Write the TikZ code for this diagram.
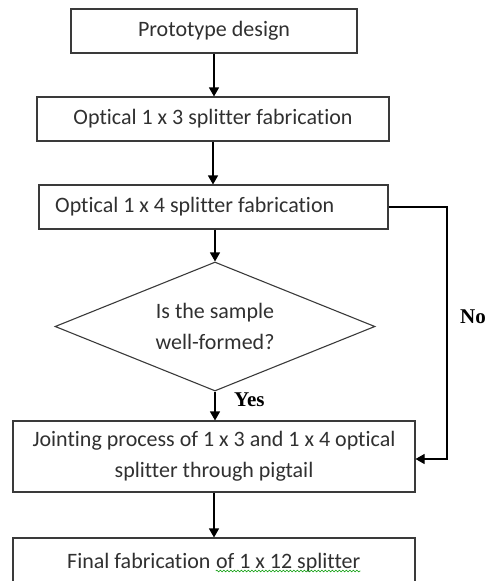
\documentclass[tikz,border=0pt]{standalone}
\usepackage{fontspec}
\setmainfont[Ligatures=NoCommon]{Carlito}
\newfontfamily\labelfont{Liberation Serif}
\usetikzlibrary{shapes.geometric,arrows.meta,decorations.pathmorphing}
\definecolor{edge}{HTML}{3A3A3A}
\definecolor{ink}{HTML}{303030}
\tikzset{
  boxfont/.style={font=\fontsize{22}{31}\selectfont, text=ink},
  box/.style={draw=edge, line width=1.1pt, rectangle, inner sep=0pt, boxfont, align=center},
  decision/.style={draw=edge, line width=1.1pt, diamond, aspect=2.5, inner sep=0pt, boxfont, align=center},
  flow/.style={draw=black, line width=1.1pt, -{Triangle[length=9pt,width=10pt]}},
  answer/.style={font=\labelfont\bfseries\fontsize{21}{24}\selectfont, text=black}
}
\begin{document}
\begin{tikzpicture}[x=1pt,y=-1pt]
\useasboundingbox (0,0) rectangle (485,581);
\begin{scope}
\clip (0,0) rectangle (485,581);
% process boxes
\node[box, minimum width=286pt, minimum height=44pt] (proto) at (214,31) {Prototype design};
\node[box, minimum width=352pt, minimum height=44pt] (s13) at (213,119) {Optical 1 x 3 splitter fabrication};
\node[box, minimum width=349pt, minimum height=44pt] (s14) at (213.5,207) {};
\node[boxfont, anchor=west, inner sep=0pt] (s14t) at (55,207) {Optical 1 x 4 splitter fabrication};
\node[decision, minimum width=320pt, minimum height=129pt] (check) at (215,326.5) {Is the sample\\well-formed?};
\node[box, minimum width=402pt, minimum height=71pt] (joint) at (214,456.5) {Jointing process of 1 x 3 and 1 x 4 optical\\splitter through pigtail};
\node[box, minimum width=402pt, minimum height=60pt] (final) at (214,568) {};
% last caption in two pieces so the squiggle sits under the second one
\node[boxfont, inner sep=0pt, anchor=base west] (finalA) at (67,568) {Final fabrication};
\node[boxfont, inner sep=0pt, anchor=base west] (finalB) at ([xshift=5pt]finalA.base east) {of 1 x 12 splitter};
\draw[green!60!black, line width=0.6pt, decorate, decoration={snake, amplitude=0.9pt, segment length=3.5pt}]
  ([yshift=-3pt]finalB.base west) -- ([yshift=-3pt]finalB.base east);
% connectors
\draw[flow] (proto.south) -- (proto.south |- s13.north);
\draw[flow] (s13.south) -- (s13.south |- s14.north);
\draw[flow] (check.north |- s14.south) -- (check.north);
\draw[flow] (check.south) -- (check.south |- joint.north);
\coordinate (bend1) at (447,207);
\coordinate (bend2) at (447,459);
\draw[flow] (s14.east) -- (bend1) -- (bend2) -- (joint.east |- bend2);
\draw[flow] (joint.south) -- (joint.south |- final.north);
% branch labels
\node[answer, anchor=west, inner sep=0pt] (yes) at (234,400) {Yes};
\node[answer, anchor=west, inner sep=0pt] (no) at (460,317) {No};
\end{scope}
\end{tikzpicture}
\end{document}
